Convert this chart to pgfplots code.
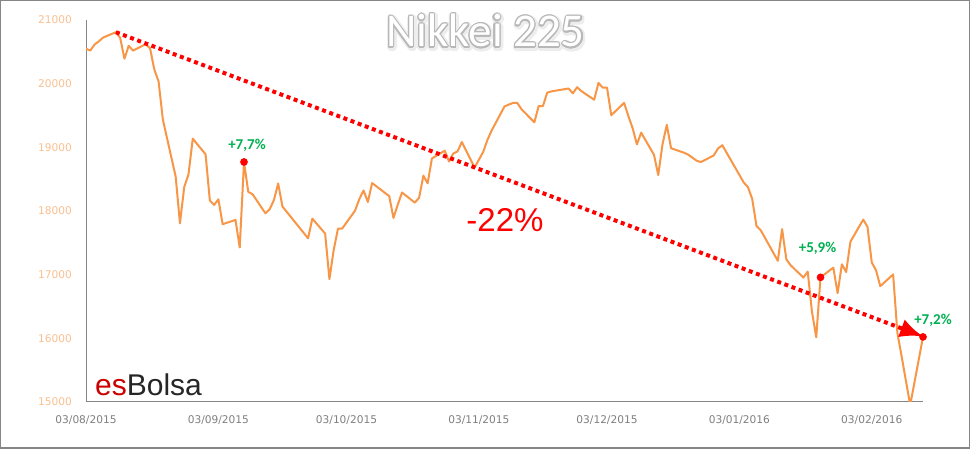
\documentclass[border=0pt]{standalone}
\usepackage{pgfplots}
\pgfplotsset{compat=1.18}
\usepackage{pgfplotstable}
\usepackage{fontspec}
\setmainfont{DejaVu Sans}
\newfontfamily\carlito{Carlito}
\newfontfamily\arial{Liberation Sans}
\usetikzlibrary{arrows.meta}
\definecolor{nkorange}{HTML}{F79646}
\definecolor{ylab}{HTML}{FAC090}
\definecolor{xlab}{HTML}{7F7F7F}
\definecolor{axgray}{HTML}{868686}
\definecolor{nkgreen}{HTML}{00B050}
\definecolor{logored}{HTML}{CC0000}
\definecolor{logodark}{HTML}{262626}

% day number counted from 03/08/2015, Nikkei 225 close
\pgfplotstableread{
d v
0 20548
1 20520
2 20614
3 20664
4 20724
7 20808
8 20720
9 20392
10 20595
11 20519
14 20620
15 20554
16 20222
17 20033
18 19435
21 18540
22 17806
23 18376
24 18574
25 19136
28 18890
29 18165
30 18095
31 18183
32 17792
35 17860
36 17427
37 18770
38 18299
39 18264
42 17965
43 18026
44 18171
45 18432
46 18070
52 17571
53 17880
56 17645
57 16930
58 17388
59 17722
60 17725
63 18005
64 18186
65 18322
66 18141
67 18438
71 18234
72 17891
73 18097
74 18291
77 18131
78 18207
79 18554
80 18435
81 18825
84 18947
85 18777
86 18903
87 18935
88 19083
91 18683
93 18927
94 19116
95 19265
98 19642
99 19671
100 19697
101 19697
102 19596
105 19393
106 19649
107 19648
108 19859
109 19879
113 19924
114 19847
115 19944
116 19883
119 19747
120 20012
121 19938
122 19939
123 19504
126 19698
127 19492
128 19301
129 19046
130 19230
133 18883
134 18565
135 19049
136 19353
137 18986
140 18916
141 18886
143 18789
144 18769
147 18873
148 18982
149 19033
154 18450
155 18374
156 18191
157 17767
158 17697
162 17218
163 17715
164 17240
165 17147
168 16955
169 17048
170 16416
171 16017
172 16958
175 17110
176 16708
177 17163
178 17041
179 17518
182 17865
183 17750
184 17191
185 17068
186 16819
189 17004
190 16085
191 15713
193 14952
196 16022
}\nikkei

\begin{document}
\begin{tikzpicture}[x=1bp,y=1bp]
\useasboundingbox (0,0) rectangle (970,449);
\fill[white] (0,0) rectangle (970,449);
\draw[axgray, line width=1.5bp] (0.75,0.75) rectangle (969.25,448.25);
% title with outline and soft glow
\foreach \a in {0,22.5,...,337.5}
  \node[anchor=base, inner sep=0pt, text=black!7, font=\carlito\fontsize{47bp}{50bp}\selectfont] at ([shift={(\a:3bp)}]486.5,400.5) {Nikkei 225};
\foreach \a in {0,22.5,...,337.5}
  \node[anchor=base, inner sep=0pt, text=black!28, font=\carlito\fontsize{47bp}{50bp}\selectfont] at ([shift={(\a:1.1bp)}]485.5,402) {Nikkei 225};
\node[anchor=base, inner sep=0pt, text=white, font=\carlito\fontsize{47bp}{50bp}\selectfont] at (485.5,402) {Nikkei 225};

\begin{axis}[at={(86bp,47bp)}, anchor=south west, scale only axis,
  width=837bp, height=382bp,
  xmin=0, xmax=196, ymin=15000, ymax=21000,
  scaled y ticks=false,
  axis x line*=bottom, axis y line*=left,
  axis line style={draw=axgray, line width=1bp},
  major tick length=0pt,
  xtick={0,31,61,92,122,153,184},
  xticklabels={03/08/2015,03/09/2015,03/10/2015,03/11/2015,03/12/2015,03/01/2016,03/02/2016},
  ytick={15000,16000,17000,18000,19000,20000,21000},
  yticklabels={15000,16000,17000,18000,19000,20000,21000},
  yticklabel style={anchor=east, inner sep=0pt, xshift=-14bp, text=ylab, font=\fontsize{10.6bp}{12bp}\selectfont},
  xticklabel style={anchor=north, inner sep=0pt, yshift=-13bp, text=xlab, font=\fontsize{10.6bp}{12bp}\selectfont},
  clip mode=individual]
\addplot[nkorange, line width=2bp, line join=round, mark=none] table[x=d,y=v] {\nikkei};
\addplot[red, line width=4bp, dash pattern=on 4bp off 3.6bp, line cap=butt,
  -{Latex[length=23bp,width=19bp]}] coordinates {(7,20808) (196,16030)};
\addplot[only marks, mark=*, mark size=3.6bp, red, mark options={draw=red, fill=red}] coordinates {(37,18770) (172,16958) (196,16022)};
\node[text=nkgreen, font=\carlito\bfseries\fontsize{15bp}{17bp}\selectfont, inner sep=0pt] at ([shift={(3bp,17bp)}]axis cs:37,18770) {+7,7\%};
\node[text=nkgreen, font=\carlito\bfseries\fontsize{15bp}{17bp}\selectfont, inner sep=0pt] at ([shift={(-3bp,29bp)}]axis cs:172,16958) {+5,9\%};
\node[text=nkgreen, font=\carlito\bfseries\fontsize{15bp}{17bp}\selectfont, inner sep=0pt] at ([shift={(10bp,17bp)}]axis cs:196,16022) {+7,2\%};
\end{axis}
\node[anchor=base, inner sep=0pt, text=red, font=\arial\fontsize{33bp}{36bp}\selectfont] at (505,217) {-22\%};
\node[anchor=base west, inner sep=0pt, font=\arial\fontsize{30bp}{32bp}\selectfont] at (95,53) {\textcolor{logored}{es}\textcolor{logodark}{Bolsa}};
\end{tikzpicture}
\end{document}
